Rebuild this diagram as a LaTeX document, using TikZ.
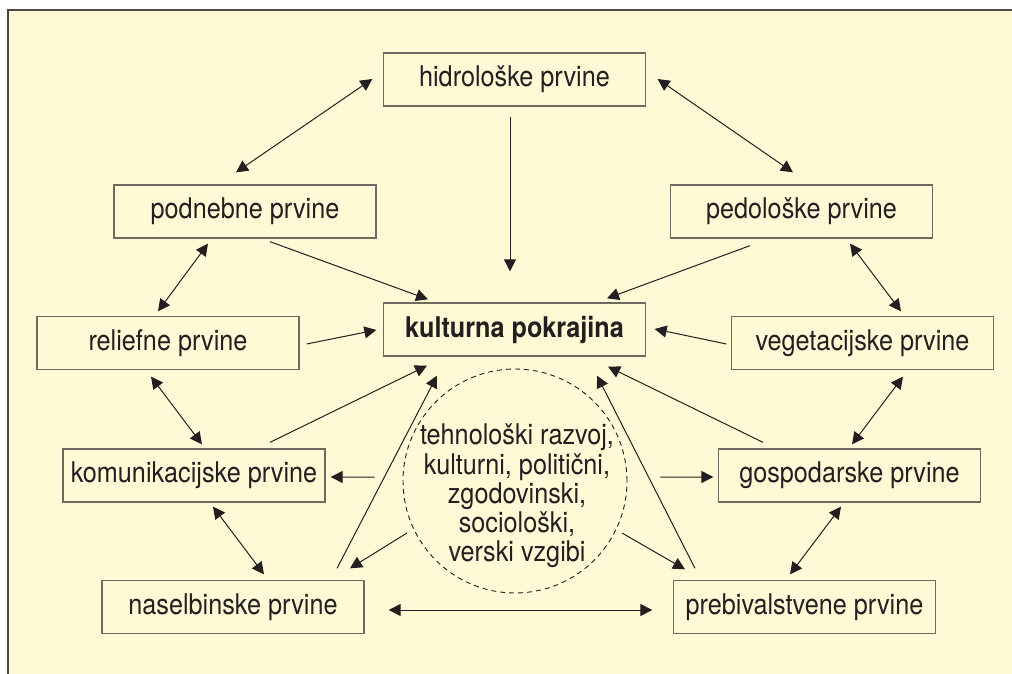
\documentclass[tikz,border=0pt]{standalone}
\usepackage{fontspec}
\setmainfont[FakeStretch=0.885]{TeX Gyre Heros}
\usepackage{tikz}
\usetikzlibrary{arrows.meta}
\definecolor{pozadina}{RGB}{255, 249, 213}
\definecolor{tekst}{RGB}{35, 31, 32}
\definecolor{rob}{RGB}{110, 106, 96}

\tikzset{
  prvina/.style={draw=rob, line width=1.3bp, minimum width=262bp, minimum height=53bp,
    inner sep=0pt, text=tekst, font=\fontsize{28.5bp}{34bp}\selectfont},
  vez/.style={draw=tekst, line width=1bp},
}

\begin{document}
\begin{tikzpicture}[x=1bp, y=-1bp, >={Triangle[length=12bp,width=12bp]}]
        \useasboundingbox (0, 0) rectangle (1012, 674);
        \fill[pozadina] (8, 10) rectangle (1012, 674);
        \draw[rob!70!black, line width=1.5bp] (8, 674) -- (8, 10) -- (1012, 10);

        \node[prvina] (hidro) at (514.5, 79.5) {hidrološke prvine};
        \node[prvina] (podnebje) at (245, 211.5) {podnebne prvine};
        \node[prvina] (pedo) at (801.5, 211.5) {pedološke prvine};
        \node[prvina, font=\fontsize{28.5bp}{34bp}\selectfont\bfseries] (kultura) at (514.5, 329.5) {kulturna pokrajina};
        \node[prvina] (relief) at (168, 343) {reliefne prvine};
        \node[prvina] (vegetacija) at (862.5, 343) {vegetacijske prvine};
        \node[prvina] (komunikacije) at (194, 475.5) {komunikacijske prvine};
        \node[prvina] (gospodarstvo) at (849.5, 475.5) {gospodarske prvine};
        \node[prvina] (naselja) at (233, 607) {naselbinske prvine};
        \node[prvina] (prebivalstvo) at (804.5, 607) {prebivalstvene prvine};

        \node[circle, draw=tekst, dash pattern=on 5bp off 4bp, line width=0.9bp, minimum size=224bp, inner sep=0pt] (vzgibi) at (515, 481) {};
        \node[align=center, text=tekst, font=\fontsize{28.5bp}{29.25bp}\selectfont] (vzgibitekst) at (517, 496)
            {tehnološki razvoj,\\ kulturni, politični,\\ zgodovinski,\\ sociološki,\\ verski vzgibi};

        \draw[vez, <->] ([shift={(-10.5, -0.5)}]hidro.west) -- ([shift={(-9, -12)}]podnebje.north);
        \draw[vez, <->] ([shift={(11.5, -0.5)}]hidro.east) -- ([shift={(-8.5, -12)}]pedo.north);
        \draw[vez, ->] ([shift={(-4.5, 10)}]hidro.south) -- ([shift={(-4.5, -31)}]kultura.north);
        \draw[vez, ->] ([shift={(25, 3)}]podnebje.south) -- ([shift={(-86.5, -3)}]kultura.north);
        \draw[vez, ->] ([shift={(-51.5, 7)}]pedo.south) -- ([shift={(92.5, -4)}]kultura.north);
        \draw[vez, ->] ([shift={(7, 1)}]relief.east) -- ([shift={(-6.5, 0.5)}]kultura.west);
        \draw[vez, ->] ([shift={(-4.5, 1)}]vegetacija.west) -- ([shift={(8.5, -0.5)}]kultura.east);

        \draw[vez, <->] ([shift={(-37, 5)}]podnebje.south) -- ([shift={(-10, -4.5)}]relief.north);
        \draw[vez, <->] ([shift={(-17, 6.5)}]relief.south) -- ([shift={(8, -4)}]komunikacije.north);
        \draw[vez, <->] ([shift={(19, 4)}]komunikacije.south) -- ([shift={(31, -5.5)}]naselja.north);
        \draw[vez, <->] ([shift={(48.5, 5)}]pedo.south) -- ([shift={(38.5, -4.5)}]vegetacija.north);
        \draw[vez, <->] ([shift={(40.5, 6.5)}]vegetacija.south) -- ([shift={(2.5, -4)}]gospodarstvo.north);
        \draw[vez, <->] ([shift={(-8.5, 4)}]gospodarstvo.south) -- ([shift={(-14.5, -5.5)}]prebivalstvo.north);

        \draw[vez, ->] ([shift={(76, -6)}]komunikacije.north) -- ([shift={(-87.5, 9)}]kultura.south);
        \draw[vez, ->] ([shift={(104, -11.5)}]naselja.north) -- ([shift={(-77.5, 19)}]kultura.south);
        \draw[vez, ->] ([shift={(-86.5, -6)}]gospodarstvo.north) -- ([shift={(93.5, 10)}]kultura.south);
        \draw[vez, ->] ([shift={(-109.5, -11.5)}]prebivalstvo.north) -- ([shift={(82.5, 19)}]kultura.south);

        \draw[vez, ->] ([shift={(-28, -4)}]vzgibi.west) -- ([shift={(5, 1.5)}]komunikacije.east);
        \draw[vez, ->] ([shift={(33, -4)}]vzgibi.east) -- ([shift={(-4.5, 1.5)}]gospodarstvo.west);
        \draw[vez, ->] ([shift={(-108, 52)}]vzgibi.center) -- ([shift={(117, -11.5)}]naselja.north);
        \draw[vez, ->] ([shift={(107, 52)}]vzgibi.center) -- ([shift={(-119.5, -10.5)}]prebivalstvo.north);

        \draw[vez, <->] ([shift={(24, 3)}]naselja.east) -- ([shift={(-20.5, 3)}]prebivalstvo.west);
    \end{tikzpicture}
\end{document}
